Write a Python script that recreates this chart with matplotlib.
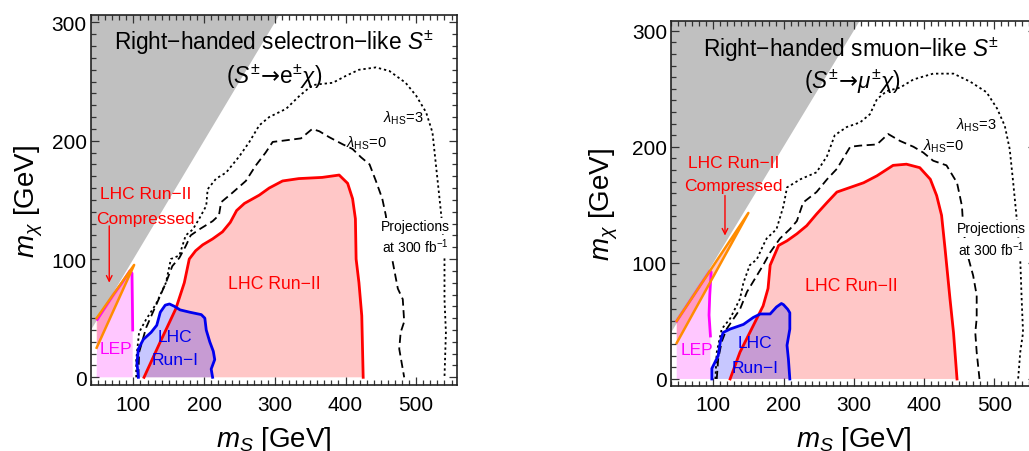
import matplotlib
matplotlib.use("Agg")
import matplotlib.pyplot as plt
from matplotlib.ticker import MultipleLocator

plt.rcParams['font.family'] = ['Liberation Sans', 'DejaVu Sans']
plt.rcParams['mathtext.fontset'] = 'custom'
plt.rcParams['mathtext.rm'] = 'Liberation Sans'
plt.rcParams['mathtext.it'] = 'Liberation Sans:italic'
plt.rcParams['mathtext.bf'] = 'Liberation Sans:bold'
plt.rcParams['mathtext.sf'] = 'DejaVu Sans'

# ---------------- data: left panel (selectron-like) ----------------
kin_x = [0, 600]
kin_y = [0, 600]

L_run2_x = [115, 138, 160, 172, 179, 188, 198, 212, 226, 237, 246, 257, 278, 292, 311, 334, 367, 391, 403, 410, 414, 415, 419, 423, 425]
L_run2_y = [0, 30, 58, 80, 100, 107, 112, 117, 123, 131, 141, 147, 154, 160, 166, 168, 169, 171, 164, 151, 134, 100, 80, 52, 0]

L_run1_x = [107, 105, 107, 114, 125, 133, 138, 145, 151, 158, 166, 180, 196, 201, 203, 208, 213, 215, 210, 212]
L_run1_y = [0, 12, 24, 32, 38, 44, 55, 61, 62, 60, 57, 55, 53, 50, 40, 30, 22, 15, 7, 0]

L_lep_x = [48, 49, 62, 72, 84, 95, 98, 98.5, 99, 99]
L_lep_y = [0, 49, 61, 70, 80, 90, 88, 65, 40, 0]

L_comp_x = [48, 101, 48]
L_comp_y = [25, 95, 50]

L_lam0_x = [107, 108, 118, 132, 146, 155, 165, 174, 181, 193, 212, 221, 224, 240, 259, 273, 287, 297, 311, 337, 353, 363, 377, 396, 410, 422, 434, 443, 452, 457, 460, 466, 474, 481, 483, 478, 476, 483]
L_lam0_y = [0, 21, 42, 61, 80, 94, 101, 111, 120, 125, 132, 137, 148, 156, 166, 179, 190, 199, 200, 202, 210, 208, 203, 197, 193, 186, 180, 166, 151, 137, 123, 100, 75, 66, 47, 38, 24, 0]

L_lam3_x = [104, 104, 108, 118, 132, 146, 153, 165, 174, 184, 193, 203, 205, 217, 231, 250, 264, 278, 292, 316, 335, 353, 366, 382, 401, 419, 443, 462, 485, 500, 514, 523, 528, 533, 537, 540, 540, 542, 540]
L_lam3_y = [0, 15, 38, 49, 62, 80, 100, 103, 120, 125, 134, 145, 159, 168, 173, 187, 199, 213, 220, 227, 238, 247, 248, 249, 255, 260, 262, 259, 249, 238, 224, 207, 179, 151, 128, 100, 66, 38, 0]

# ---------------- data: right panel (smuon-like) ----------------
R_run2_x = [124, 138, 157, 171, 178, 181, 193, 205, 219, 233, 247, 262, 276, 295, 314, 333, 356, 375, 394, 409, 418, 425, 430, 437, 442, 447]
R_run2_y = [0, 23, 46, 63, 78, 98, 115, 119, 125, 132, 142, 152, 161, 165, 169, 175, 184, 185, 182, 172, 158, 141, 112, 69, 40, 0]

R_run1_x = [98, 98, 107, 110, 114, 124, 143, 157, 167, 181, 190, 197, 200, 206, 209, 209, 205, 207, 209]
R_run1_y = [0, 9, 20, 32, 40, 43, 47, 53, 56, 56, 62, 65, 64, 60, 57, 43, 29, 17, 0]

R_lep_x = [48, 48, 60, 72, 84, 95, 97, 95, 94, 96, 96]
R_lep_y = [0, 50, 61, 72, 83, 93, 92, 72, 55, 37, 0]

R_comp_x = [48, 150, 48]
R_comp_y = [31, 143, 50]

R_lam0_x = [105, 107, 112, 119, 129, 138, 148, 162, 171, 181, 195, 209, 219, 228, 247, 262, 276, 285, 295, 309, 333, 349, 366, 385, 399, 413, 432, 447, 454, 456, 461, 470, 475, 475, 473, 475, 479]
R_lam0_y = [0, 17, 32, 43, 52, 60, 75, 89, 98, 109, 121, 129, 136, 152, 161, 172, 181, 190, 200, 201, 202, 211, 205, 200, 195, 188, 184, 169, 149, 129, 109, 89, 72, 52, 40, 23, 0]

R_lam3_x = [103, 105, 112, 124, 138, 143, 152, 162, 171, 176, 190, 200, 205, 224, 247, 262, 273, 290, 309, 323, 333, 347, 366, 385, 413, 442, 466, 489, 504, 515, 522, 527, 532, 537, 539, 541, 537, 534]
R_lam3_y = [0, 23, 43, 52, 69, 83, 98, 103, 115, 121, 129, 149, 165, 172, 178, 192, 210, 217, 221, 228, 241, 248, 251, 258, 263, 263, 256, 247, 233, 218, 198, 169, 138, 103, 69, 40, 23, 0]

panels = [
    dict(pos=[91/1029, 66/452, 366/1029, 370/452], xlim=(40, 557.7), ylim=(-6.5, 306.3),
         run2=(L_run2_x, L_run2_y), run1=(L_run1_x, L_run1_y), lep=(L_lep_x, L_lep_y),
         comp=(L_comp_x, L_comp_y), lam0=(L_lam0_x, L_lam0_y), lam3=(L_lam3_x, L_lam3_y),
         title1=r'Right−handed selectron−like $S^{\pm}$',
         title2=r'($S^{\pm}\!\mathsf{\rightarrow}\!\mathrm{e}^{\pm}\chi$)',
         t1=(299, 283.5), t2=(299, 254.5),
         lam3lab=(481, 220), lam0lab=(429, 199), proj=(499.5, 128), proj2=(499.5, 111),
         run2lab=(299, 79), complab=(117.6, 155), complab2=(117.6, 134.4), arrow=((65.8, 128), (65.8, 80)),
         leplab=(75.2, 24.5), run1lab=(159, 34.4), run1lab2=(159, 14.7), ylabx=-0.125),
    dict(pos=[671.1/1029, 65.3/452, 365.3/1029, 365/452], xlim=(40, 560), ylim=(-5.8, 308.6),
         run2=(R_run2_x, R_run2_y), run1=(R_run1_x, R_run1_y), lep=(R_lep_x, R_lep_y),
         comp=(R_comp_x, R_comp_y), lam0=(R_lam0_x, R_lam0_y), lam3=(R_lam3_x, R_lam3_y),
         title1=r'Right−handed smuon−like $S^{\pm}$',
         title2=r'($S^{\pm}\!\mathsf{\rightarrow}\!\mu^{\pm}\chi$)',
         t1=(296, 284.2), t2=(297.5, 256.7),
         lam3lab=(475, 219.6), lam0lab=(427.5, 201), proj=(496, 129.8), proj2=(496, 112.5),
         run2lab=(297, 80.4), complab=(128.6, 186.6), complab2=(128.6, 166.5), arrow=((116.7, 158), (116.7, 123.5)),
         leplab=(76.4, 25.8), run1lab=(159.4, 31.6), run1lab2=(159.4, 10), ylabx=-0.14),
]

fig = plt.figure(figsize=(10.29, 4.52), dpi=100)

for p in panels:
    ax = fig.add_axes(p['pos'])
    ax.set_xlim(*p['xlim'])
    ax.set_ylim(*p['ylim'])
    # kinematically forbidden region
    ax.fill_between(kin_x, kin_y, [600, 600], color='#c0c0c0', lw=0, zorder=1)
    # fills
    ax.fill(*p['run2'], facecolor=(1, 0, 0, 0.22), edgecolor='none', zorder=2)
    ax.fill(*p['run1'], facecolor=(0, 0, 1, 0.22), edgecolor='none', zorder=3)
    ax.fill(*p['lep'], facecolor=(1, 0, 1, 0.22), edgecolor='none', zorder=3)
    ax.fill(*p['comp'], facecolor=(1, 0, 0, 0.22), edgecolor='none', zorder=4)
    # outlines
    ax.plot(*p['run2'], color='#ff0000', lw=2.0, zorder=6)
    ax.plot(*p['run1'], color='#0000ee', lw=2.0, zorder=6)
    lx, ly = p['lep']
    ax.plot(lx[1:-1], ly[1:-1], color='#ff00ff', lw=2.0, zorder=6)
    ax.plot(*p['comp'], color='#ff8c00', lw=1.8, zorder=7)
    ax.plot(*p['lam0'], color='black', lw=1.3, ls=(0, (4.5, 2.5)), zorder=5)
    ax.plot(*p['lam3'], color='black', lw=1.3, ls=(0, (1.3, 1.6)), zorder=5)

    # texts
    ax.text(*p['t1'], p['title1'], fontsize=16.3, ha='center', va='center', zorder=10)
    ax.text(*p['t2'], p['title2'], fontsize=16.3, ha='center', va='center', zorder=10)
    ax.text(*p['lam3lab'], r'$\lambda_{\mathrm{HS}}$=3', fontsize=10.5, ha='center', va='center', zorder=10)
    ax.text(*p['lam0lab'], r'$\lambda_{\mathrm{HS}}$=0', fontsize=10.5, ha='center', va='center', zorder=10)
    ax.text(*p['proj'], 'Projections', fontsize=10, ha='center', va='center', zorder=10,
            bbox=dict(facecolor='white', edgecolor='none', pad=1))
    ax.text(*p['proj2'], r'at 300 fb$^{-1}$', fontsize=10, ha='center', va='center', zorder=10,
            bbox=dict(facecolor='white', edgecolor='none', pad=1))
    ax.text(*p['run2lab'], 'LHC Run−II', fontsize=12.7, color='#ff0000', ha='center', va='center', zorder=10)
    ax.text(*p['complab'], 'LHC Run−II', fontsize=12.5, color='#ff0000', ha='center', va='center', zorder=10)
    ax.text(*p['complab2'], 'Compressed', fontsize=12.5, color='#ff0000', ha='center', va='center', zorder=10)
    a0, a1 = p['arrow']
    ax.annotate('', xy=a1, xytext=a0, zorder=10,
                arrowprops=dict(arrowstyle='->', color='#ff0000', lw=1.0, shrinkA=0, shrinkB=0))
    ax.text(*p['leplab'], 'LEP', fontsize=12.5, color='#ff00ff', ha='center', va='center', zorder=10)
    ax.text(*p['run1lab'], 'LHC', fontsize=12.5, color='#0000ee', ha='center', va='center', zorder=10)
    ax.text(*p['run1lab2'], 'Run−I', fontsize=12.5, color='#0000ee', ha='center', va='center', zorder=10)

    # axes styling
    ax.xaxis.set_major_locator(MultipleLocator(100))
    ax.xaxis.set_minor_locator(MultipleLocator(10))
    ax.yaxis.set_major_locator(MultipleLocator(100))
    ax.yaxis.set_minor_locator(MultipleLocator(10))
    ax.tick_params(which='both', direction='in', top=True, right=True, color='#333333', width=0.9)
    ax.tick_params(which='major', length=6)
    ax.tick_params(which='minor', length=3.5)
    ax.tick_params(axis='x', labelsize=15, pad=7)
    ax.tick_params(axis='y', labelsize=15, pad=3)
    for s in ax.spines.values():
        s.set_linewidth(1.2)
        s.set_color('#222222')
    ax.set_xlabel(r'$m_S$ [GeV]', fontsize=20)
    ax.set_ylabel(r'$m_{\chi}$ [GeV]', fontsize=20)
    ax.xaxis.set_label_coords(0.5, -0.105)
    ax.yaxis.set_label_coords(p['ylabx'], 0.5)

fig.savefig('out.png', dpi=100)
